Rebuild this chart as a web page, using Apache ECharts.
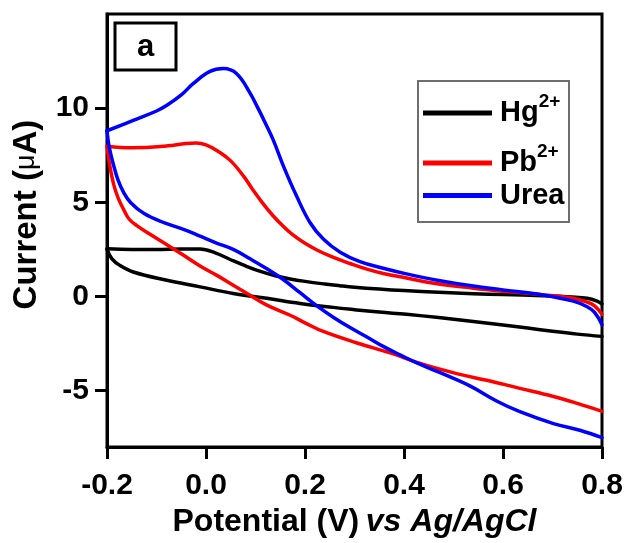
<!DOCTYPE html>
<html>
<head>
    <meta charset="utf-8">
    <title>Cyclic voltammograms</title>
    <script src="https://cdn.jsdelivr.net/npm/echarts@6.0.0/dist/echarts.min.js"></script>
    <style>
        html, body { margin: 0; padding: 0; background: #fff; }
        #main { width: 627px; height: 543px; }
    </style>
</head>
<body>
<div id="main"></div>
<script type="text/javascript">

    // series names and their charge superscripts (legend)
    var seriesNames = ['Hg', 'Pb', 'Urea'];
    var charges = ['2+', '2+', ''];
    var colors = ['#000000', '#ff0000', '#0000ff'];

    // axis ticks
    var xTicks = [-0.2, 0.0, 0.2, 0.4, 0.6, 0.8];
    var yTicks = [-5, 0, 5, 10];

    // [potential V, current uA]
    // upper = sweep from -0.2 to 0.8, lower = return sweep from 0.8 to -0.2
    var hgUpper = [
        [-0.2, 2.53], [-0.15, 2.5], [-0.1, 2.5], [-0.05, 2.52], [-0.012, 2.52], [0.02, 2.3],
        [0.05, 1.95], [0.08, 1.62], [0.11, 1.33], [0.14, 1.1], [0.17, 0.93], [0.2, 0.8],
        [0.24, 0.66], [0.27, 0.57], [0.3, 0.49], [0.35, 0.39], [0.4, 0.31], [0.47, 0.22],
        [0.54, 0.15], [0.6, 0.1], [0.68, 0.04], [0.74, -0.03], [0.77, -0.1], [0.79, -0.25], [0.8, -0.4]
    ];
    var hgLower = [
        [0.8, -2.12], [0.75, -2.0], [0.7, -1.85], [0.65, -1.68], [0.6, -1.52], [0.54, -1.33],
        [0.47, -1.12], [0.405, -0.95], [0.35, -0.83], [0.3, -0.7], [0.257, -0.58], [0.19, -0.37],
        [0.123, -0.1], [0.055, 0.16], [-0.012, 0.51], [-0.079, 0.86], [-0.147, 1.3],
        [-0.174, 1.65], [-0.19, 2.0], [-0.2, 2.5]
    ];

    var pbUpper = [
        [-0.2, 7.98], [-0.15, 7.9], [-0.113, 7.92], [-0.077, 8.0], [-0.04, 8.12], [-0.02, 8.15],
        [0.0, 8.05], [0.025, 7.7], [0.05, 7.2], [0.077, 6.35], [0.095, 5.65], [0.116, 4.9],
        [0.135, 4.3], [0.155, 3.75], [0.175, 3.28], [0.2, 2.82], [0.224, 2.47], [0.255, 2.1],
        [0.291, 1.75], [0.325, 1.45], [0.358, 1.22], [0.405, 0.98], [0.47, 0.66], [0.54, 0.44],
        [0.6, 0.28], [0.675, 0.1], [0.74, -0.08], [0.77, -0.3], [0.785, -0.5], [0.8, -0.95]
    ];
    var pbLower = [
        [0.8, -6.1], [0.75, -5.68], [0.7, -5.3], [0.634, -4.88], [0.567, -4.45], [0.513, -4.14],
        [0.439, -3.61], [0.372, -3.0], [0.305, -2.47], [0.237, -1.86], [0.2, -1.4], [0.17, -1.0],
        [0.123, -0.46], [0.089, 0.07], [0.055, 0.6], [0.022, 1.12], [-0.012, 1.62], [-0.046, 2.2],
        [-0.079, 2.75], [-0.113, 3.3], [-0.139, 3.75], [-0.155, 4.1], [-0.166, 4.6], [-0.177, 5.2],
        [-0.186, 5.9], [-0.194, 6.9], [-0.2, 7.98]
    ];

    var ureaUpper = [
        [-0.2, 8.8], [-0.147, 9.35], [-0.1, 9.85], [-0.079, 10.15], [-0.05, 10.7], [-0.026, 11.3],
        [0.008, 11.95], [0.035, 12.1], [0.062, 11.83], [0.089, 10.8], [0.105, 10.0], [0.12, 9.2],
        [0.136, 8.3], [0.156, 6.95], [0.183, 5.33], [0.21, 3.93], [0.237, 3.05], [0.271, 2.35],
        [0.311, 1.85], [0.358, 1.5], [0.405, 1.2], [0.47, 0.85], [0.54, 0.55], [0.6, 0.35],
        [0.675, 0.1], [0.742, -0.25], [0.77, -0.55], [0.785, -0.85], [0.8, -1.5]
    ];
    var ureaLower = [
        [0.8, -7.5], [0.757, -7.12], [0.702, -6.75], [0.634, -6.12], [0.587, -5.55], [0.533, -4.75],
        [0.473, -4.05], [0.426, -3.53], [0.392, -3.1], [0.358, -2.65], [0.325, -2.15], [0.291, -1.65],
        [0.257, -1.1], [0.224, -0.5], [0.19, 0.2], [0.156, 0.9], [0.123, 1.47], [0.089, 2.0],
        [0.055, 2.5], [0.02, 2.85], [-0.012, 3.2], [-0.044, 3.55], [-0.085, 3.92], [-0.125, 4.4],
        [-0.152, 4.98], [-0.166, 5.5], [-0.178, 6.2], [-0.188, 7.1], [-0.196, 8.0], [-0.2, 8.8]
    ];

    var branches = [[hgUpper, hgLower], [pbUpper, pbLower], [ureaUpper, ureaLower]];

    var FONT = '"Liberation Sans", Arial, sans-serif';

    function buildChart() {
        var chartDom = document.getElementById('main');
        var myChart = echarts.init(chartDom, null, { renderer: 'canvas' });

        var series = [];
        var legends = [];
        var legendTops = [92, 142, 181];
        for (var i = 0; i < seriesNames.length; i++) {
            for (var b = 0; b < 2; b++) {
                series.push({
                    name: seriesNames[i],
                    type: 'line',
                    data: branches[i][b],
                    symbol: 'none',
                    smooth: 0.4,
                    lineStyle: { color: colors[i], width: 3.5, cap: 'round', join: 'round' },
                    itemStyle: { color: colors[i] },
                    z: 2 + i
                });
            }
            legends.push({
                data: [{ name: seriesNames[i], icon: 'rect' }],
                left: 423,
                top: legendTops[i],
                orient: 'vertical',
                padding: 0,
                itemWidth: 69,
                itemHeight: 5,
                selectedMode: false,
                formatter: function (name) {
                    var c = charges[seriesNames.indexOf(name)];
                    return c ? '{m|' + name + '}{s|' + c + '}' : '{m|' + name + '}';
                },
                textStyle: {
                    color: '#000',
                    rich: {
                        m: { fontFamily: FONT, fontWeight: 'bold', fontSize: 29, lineHeight: 42, color: '#000', padding: [0, 0, 0, 3] },
                        s: { fontFamily: FONT, fontWeight: 'bold', fontSize: 19, lineHeight: 19, verticalAlign: 'top', color: '#000' }
                    }
                }
            });
        }

        var option = {
            animation: false,
            backgroundColor: '#fff',
            grid: {
                left: 107,
                right: 25,
                top: 14,
                bottom: 93,
                show: true,
                borderColor: '#000',
                borderWidth: 3,
                containLabel: false
            },
            legend: legends,
            xAxis: {
                type: 'value',
                min: -0.2,
                max: 0.8,
                interval: 0.2,
                name: '{a|Potential (V)}  {b|vs Ag/AgCl}',
                nameLocation: 'middle',
                nameGap: 52,
                nameTextStyle: {
                    rich: {
                        a: { fontFamily: FONT, fontWeight: 'bold', fontSize: 32, color: '#000' },
                        b: { fontFamily: FONT, fontWeight: 'bold', fontStyle: 'italic', fontSize: 32, color: '#000' }
                    }
                },
                axisLine: { show: true, onZero: false, lineStyle: { color: '#000', width: 3 } },
                axisTick: { show: true, inside: false, length: 12, lineStyle: { color: '#000', width: 3 } },
                axisLabel: {
                    color: '#000',
                    fontFamily: FONT,
                    fontWeight: 'bold',
                    fontSize: 30,
                    margin: 24,
                    formatter: function (v) { return v.toFixed(1); }
                },
                splitLine: { show: false }
            },
            yAxis: {
                type: 'value',
                min: -8,
                max: 15,
                name: '{a|Current (}{u|μ}{a|A)}',
                nameLocation: 'middle',
                nameGap: 64,
                nameTextStyle: {
                    padding: [0, 0, 0, 32],
                    rich: {
                        a: { fontFamily: FONT, fontWeight: 'bold', fontSize: 33, color: '#000' },
                        u: { fontFamily: FONT, fontWeight: 'normal', fontSize: 27, color: '#000' }
                    }
                },
                axisLine: { show: true, onZero: false, lineStyle: { color: '#000', width: 3 } },
                axisTick: {
                    show: true, inside: false, length: 12,
                    customValues: yTicks,
                    lineStyle: { color: '#000', width: 3 }
                },
                axisLabel: {
                    color: '#000',
                    fontFamily: FONT,
                    fontWeight: 'bold',
                    fontSize: 30,
                    margin: 18,
                    customValues: yTicks
                },
                splitLine: { show: false }
            },
            graphic: [
                {
                    type: 'group',
                    children: [
                        {
                            type: 'rect',
                            shape: { x: 115, y: 23, width: 61, height: 47 },
                            style: { fill: '#fff', stroke: '#000', lineWidth: 3 }
                        },
                        {
                            type: 'text',
                            x: 145.5,
                            y: 47,
                            style: {
                                text: 'a',
                                fill: '#000',
                                font: 'bold 31px ' + FONT,
                                textAlign: 'center',
                                textVerticalAlign: 'middle'
                            }
                        }
                    ]
                },
                {
                    type: 'rect',
                    z: 1,
                    shape: { x: 418, y: 81, width: 151, height: 141 },
                    style: { fill: '#fff', stroke: '#6e6e6e', lineWidth: 2 }
                }
            ],
            series: series
        };

        myChart.setOption(option);
    }

    buildChart();

</script>
</body>
</html>
